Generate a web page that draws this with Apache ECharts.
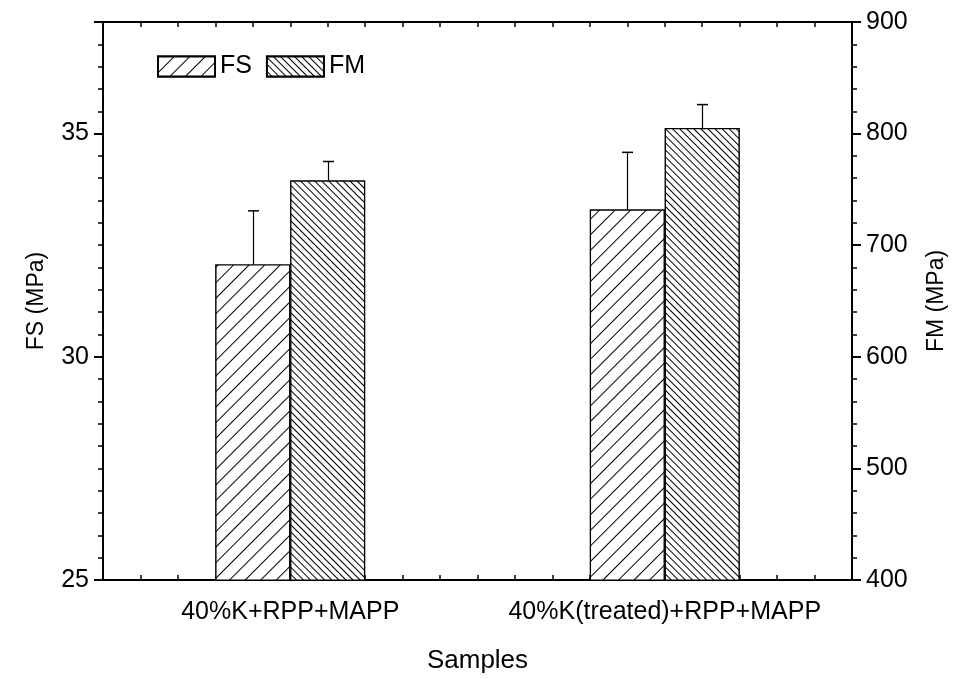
<!DOCTYPE html>
<html>
<head>
<meta charset="utf-8">
<script src="https://cdn.jsdelivr.net/npm/echarts@6/dist/echarts.min.js"></script>
<style>
html,body{margin:0;padding:0;background:#fff;}
#chart{width:956px;height:679px;}
</style>
</head>
<body>
<div id="chart"></div>
<script>
var categories = ['40%K+RPP+MAPP', '40%K(treated)+RPP+MAPP'];
var fsValues = [32.07, 33.3];
var fsErrors = [1.2, 1.28];
var fmValues = [758, 805];
var fmErrors = [17, 21];
var fsTickLabels = [25, 30, 35];
var fmTickLabels = [400, 500, 600, 700, 800, 900];

var FONT = 'Liberation Sans, Arial, sans-serif';
var black = '#000';

function errData(vals, errs) {
  return vals.map(function (v, i) { return [i, v, errs[i]]; });
}
function errRender(side) {
  return function (params, api) {
    var idx = api.value(0), v = api.value(1), e = api.value(2);
    var band = api.size([1, 0])[0];
    var base = api.coord([idx, v]);
    var top = api.coord([idx, v + e]);
    var x = Math.round(base[0] + side * band * 0.1) + 0.5;
    var cap = 5.5;
    return {
      type: 'group',
      children: [
        { type: 'line', shape: { x1: x, y1: base[1], x2: x, y2: top[1] }, style: { stroke: black, lineWidth: 1.2 } },
        { type: 'line', shape: { x1: x - cap, y1: top[1], x2: x + cap, y2: top[1] }, style: { stroke: black, lineWidth: 1.5 } }
      ]
    };
  };
}

var chart = echarts.init(document.getElementById('chart'), null, { renderer: 'canvas' });
var option = {
  animation: false,
  backgroundColor: '#fff',
  textStyle: { fontFamily: FONT, color: black },
  grid: { left: 103, right: 104, top: 22, bottom: 96 },
  legend: {
    data: ['FS', 'FM'],
    left: 152, top: 49,
    itemWidth: 57, itemHeight: 20, itemGap: 14,
    icon: 'rect',
    textStyle: { fontSize: 25, fontFamily: FONT, color: black }
  },
  xAxis: [
    {
      type: 'category', data: categories, position: 'bottom',
      axisLine: { lineStyle: { color: black, width: 2 } },
      axisTick: { alignWithLabel: true, length: 9, lineStyle: { color: black, width: 2 } },
      axisLabel: { interval: 0, hideOverlap: false, fontSize: 25, color: black, fontFamily: FONT, margin: 20 },
      name: 'Samples', nameLocation: 'middle', nameGap: 68,
      nameTextStyle: { fontSize: 26, color: black, fontFamily: FONT },
      splitLine: { show: false }
    },
    {
      type: 'value', min: 0.5, max: 2.5, interval: 0.1, position: 'bottom',
      axisLine: { show: false },
      axisTick: { inside: true, length: 5, lineStyle: { color: black, width: 1.5 } },
      axisLabel: { show: false }, splitLine: { show: false }
    },
    {
      type: 'value', min: 0.5, max: 2.5, interval: 0.1, position: 'top',
      axisLine: { show: true, lineStyle: { color: black, width: 2 } },
      axisTick: { inside: true, length: 5, lineStyle: { color: black, width: 1.5 } },
      axisLabel: { show: false }, splitLine: { show: false }
    }
  ],
  yAxis: [
    {
      type: 'value', min: 25, max: 37.5, interval: 5, position: 'left',
      axisLine: { show: true, lineStyle: { color: black, width: 2 } },
      axisTick: { show: true, length: 9, lineStyle: { color: black, width: 2 } },
      axisLabel: {
        fontSize: 25, color: black, fontFamily: FONT, margin: 14,
        formatter: function (v) { return fsTickLabels.indexOf(v) >= 0 ? String(v) : ''; }
      },
      splitLine: { show: false },
      name: 'FS (MPa)', nameLocation: 'middle', nameGap: 55, nameRotate: 90,
      nameTextStyle: { fontSize: 23, color: black, fontFamily: FONT }
    },
    {
      type: 'value', min: 400, max: 900, interval: 100, position: 'right',
      axisLine: { show: true, lineStyle: { color: black, width: 2 } },
      axisTick: { show: true, length: 9, lineStyle: { color: black, width: 2 } },
      minorTick: { show: true, splitNumber: 5, length: 5, lineStyle: { color: black, width: 1.5 } },
      axisLabel: {
        fontSize: 25, color: black, fontFamily: FONT, margin: 14,
        formatter: function (v) { return fmTickLabels.indexOf(v) >= 0 ? String(v) : ''; }
      },
      splitLine: { show: false },
      name: 'FM (MPa)', nameLocation: 'middle', nameGap: 73, nameRotate: 90,
      nameTextStyle: { fontSize: 23, color: black, fontFamily: FONT }
    },
    {
      type: 'value', min: 25, max: 37.5, interval: 0.5, position: 'left',
      axisLine: { show: false },
      axisTick: { show: true, length: 5, lineStyle: { color: black, width: 1.5 } },
      axisLabel: { show: false }, splitLine: { show: false }
    }
  ],
  series: [
    {
      name: 'FS', type: 'bar', xAxisIndex: 0, yAxisIndex: 0,
      data: fsValues, barWidth: '20%', barGap: '0%',
      itemStyle: {
        color: '#fff', borderColor: black, borderWidth: 1.2,
        decal: { symbol: 'rect', symbolSize: 1, dashArrayX: [20, 0], dashArrayY: [1, 10], rotation: -Math.PI / 4, color: black, backgroundColor: '#fff' }
      },
      z: 2
    },
    {
      name: 'FM', type: 'bar', xAxisIndex: 0, yAxisIndex: 1,
      data: fmValues, barWidth: '20%', barGap: '0%',
      itemStyle: {
        color: '#fff', borderColor: black, borderWidth: 1.2,
        decal: { symbol: 'rect', symbolSize: 1, dashArrayX: [20, 0], dashArrayY: [1, 3.5], rotation: Math.PI / 4, color: black, backgroundColor: '#fff' }
      },
      z: 2
    },
    {
      type: 'custom', xAxisIndex: 0, yAxisIndex: 0,
      data: errData(fsValues, fsErrors), renderItem: errRender(-1),
      encode: { x: 0, y: 1 }, z: 5, silent: true
    },
    {
      type: 'custom', xAxisIndex: 0, yAxisIndex: 1,
      data: errData(fmValues, fmErrors), renderItem: errRender(1),
      encode: { x: 0, y: 1 }, z: 5, silent: true
    }
  ]
};
chart.setOption(option);
</script>
</body>
</html>
